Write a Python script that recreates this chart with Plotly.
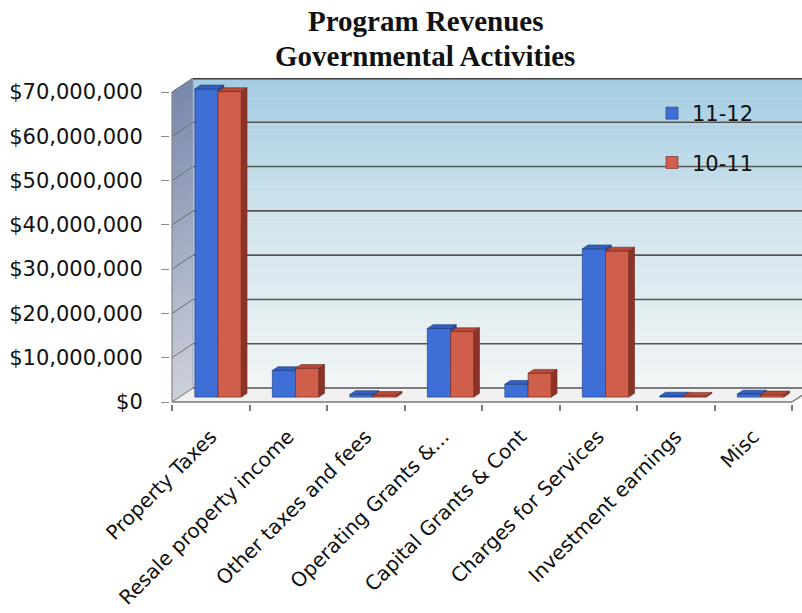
import plotly.graph_objects as go

# ---- data -------------------------------------------------------------
categories = [
    "Property Taxes",
    "Resale property income",
    "Other taxes and fees",
    "Operating Grants &...",
    "Capital Grants & Cont",
    "Charges for Services",
    "Investment earnings",
    "Misc",
]
rev_11_12 = [69.6e6, 6.0e6, 0.6e6, 15.5e6, 2.9e6, 33.5e6, 0.25e6, 0.7e6]
rev_10_11 = [69.0e6, 6.5e6, 0.4e6, 14.8e6, 5.4e6, 33.0e6, 0.2e6, 0.5e6]
series_names = ["11-12", "10-11"]
y_tick_values = [0, 10e6, 20e6, 30e6, 40e6, 50e6, 60e6, 70e6]
y_tick_labels = ["${:,.0f}".format(v) for v in y_tick_values]
title_lines = ["Program Revenues", "Governmental Activities"]

# ---- page / pseudo-3D geometry ---------------------------------------
W, H = 802, 613
ML, MR, MT, MB = 170, 0, 78, 209
plot_w = W - ML - MR
plot_h = H - MT - MB
px_per_cat = 77.5                  # pixels per category slot
px_per_usd = 310 / 70e6            # pixels per dollar
x_lo = -0.5 - 2 / px_per_cat
x_hi = x_lo + plot_w / px_per_cat
y_lo = -2 / px_per_usd
y_hi = y_lo + plot_h / px_per_usd
y_wall_top = y_tick_values[-1]

dxu = 21 / px_per_cat              # depth direction, x part (data units)
dyu = 14 / px_per_usd              # depth direction, y part (data units)
bar_t = 0.35                       # depth of the bars' front faces
bar_d = 0.27                       # bar thickness in depth
bar_w = 0.30                       # width of one bar
sx, sy = bar_t * dxu, bar_t * dyu
ddx, ddy = bar_d * dxu, bar_d * dyu

BLUE, BLUE_TOP, BLUE_SIDE = "#3d6fd6", "#3160c2", "#27489a"
RED, RED_TOP, RED_SIDE = "#cf5f4a", "#b54a39", "#8c3327"
GRID = "#555555"


def poly(pts, fill, line_color=None, lw=0.0, layer="below"):
    path = "M " + " L ".join(f"{x:.6f},{y:.2f}" for x, y in pts) + " Z"
    return dict(type="path", path=path, xref="x", yref="y", layer=layer,
                fillcolor=fill, line=dict(color=line_color or fill, width=lw))


def seg(x0, y0, x1, y1, color, width, layer="below"):
    return dict(type="line", x0=x0, y0=y0, x1=x1, y1=y1, xref="x", yref="y",
                layer=layer, line=dict(color=color, width=width))


def mix(c0, c1, f):
    return "rgb(%d,%d,%d)" % tuple(round(a + (b - a) * f) for a, b in zip(c0, c1))


def px_to_paper_y(ypx):
    return (H - MB - ypx) / plot_h


shapes = []

# back wall: vertical gradient, light blue at the top fading to white
n_bands = 60
wall_bottom = dyu
for k in range(n_bands):
    a = wall_bottom + (y_hi - wall_bottom) * k / n_bands
    b = wall_bottom + (y_hi - wall_bottom) * (k + 1.05) / n_bands
    up = (k + 0.5) / n_bands
    if up < 0.55:
        col = mix((242, 245, 245), (208, 228, 237), up / 0.55)
    else:
        col = mix((208, 228, 237), (163, 204, 226), (up - 0.55) / 0.45)
    shapes.append(dict(type="rect", xref="x", yref="y", layer="below",
                       x0=x_lo + dxu, x1=x_hi, y0=a, y1=b,
                       fillcolor=col, line=dict(width=0)))

# left side wall: grey-blue gradient
n_side = 40
for k in range(n_side):
    a = y_wall_top * k / n_side
    b = min(y_wall_top, y_wall_top * (k + 1.6) / n_side)
    up = (k + 0.5) / n_side
    col = mix((204, 208, 217), (120, 136, 172), up)
    shapes.append(poly([(-0.5, a), (-0.5 + dxu, a + dyu),
                        (-0.5 + dxu, b + dyu), (-0.5, b)], col))

# floor
shapes.append(poly([(-0.5, 0), (7.5, 0), (7.5 + dxu, dyu), (-0.5 + dxu, dyu)],
                   "#f1f1f1"))

# gridlines on the back wall and on the side wall
for v in y_tick_values:
    shapes.append(seg(-0.5 + dxu, v + dyu, x_hi, v + dyu, GRID, 1.6))
    shapes.append(seg(-0.5, v, -0.5 + dxu, v + dyu, "#6f6f6f", 1.0))
shapes.append(seg(-0.5 + dxu, dyu, -0.5 + dxu, y_wall_top + dyu, "#9aa3b5", 1.0))
shapes.append(seg(-0.5 + dxu, y_hi, x_hi, y_hi, "#3c3c3c", 3.0))

# front axis lines
shapes.append(seg(-0.5, 0, -0.5, y_wall_top, "#8a8a8a", 1.3))
shapes.append(seg(-0.5, 0, 7.5, 0, "#7a7a7a", 1.5))
shapes.append(seg(7.5, 0, 7.5 + dxu, dyu, "#7a7a7a", 1.5))

# top and side faces of every bar pair, derived from the same values
for i, (vb, vr) in enumerate(zip(rev_11_12, rev_10_11)):
    xb0 = i + sx - bar_w
    xb1 = i + sx
    xr1 = i + sx + bar_w
    tb, tr = vb + sy, vr + sy
    base = sy
    if tb >= tr:
        # blue is taller: its side face shows above the red bar
        shapes.append(poly([(xb1, tr), (xb1 + ddx, tr + ddy), (xb1 + ddx, tb + ddy),
                            (xb1, tb)], BLUE_SIDE, "#1f3a7a", 0.6, "above"))
        shapes.append(poly([(xb0, tb), (xb1, tb), (xb1 + ddx, tb + ddy),
                            (xb0 + ddx, tb + ddy)], BLUE_TOP, "#1f3a7a", 0.6, "above"))
    else:
        c = min(tr, tb + ddy)
        xc = xb1 + (tb + ddy - c) * ddx / ddy
        shapes.append(poly([(xb0, tb), (xb1, tb), (xb1, c), (xc, tb + ddy),
                            (xb0 + ddx, tb + ddy)], BLUE_TOP, "#1f3a7a", 0.6, "above"))
    shapes.append(poly([(xb1, tr), (xr1, tr), (xr1 + ddx, tr + ddy),
                        (xb1 + ddx, tr + ddy)], RED_TOP, "#6e2a20", 0.6, "above"))
    shapes.append(poly([(xr1, base), (xr1 + ddx, base + ddy), (xr1 + ddx, tr + ddy),
                        (xr1, tr)], RED_SIDE, "#6e2a20", 0.6, "above"))

# ---- traces: front faces of the columns --------------------------------
idx = list(range(len(categories)))
fig = go.Figure()
fig.add_trace(go.Bar(
    x=idx, y=rev_11_12, base=[sy] * len(idx), width=bar_w, offset=sx - bar_w,
    name=series_names[0], legendgroup="a",
    marker=dict(color=BLUE, line=dict(color="#22408a", width=0.7)),
    customdata=categories,
    hovertemplate="%{customdata}<br>11-12: $%{y:,.0f}<extra></extra>",
))
fig.add_trace(go.Bar(
    x=idx, y=rev_10_11, base=[sy] * len(idx), width=bar_w, offset=sx,
    name=series_names[1], legendgroup="b",
    marker=dict(color=RED, line=dict(color="#7a2e24", width=0.7)),
    customdata=categories,
    hovertemplate="%{customdata}<br>10-11: $%{y:,.0f}<extra></extra>",
))

label_font = dict(family="DejaVu Sans", size=21, color="#111111")
cat_font = dict(family="DejaVu Sans", size=20, color="#111111")
title_font = dict(family="Liberation Serif", size=29, color="#111111", weight="bold")

annotations = [
    dict(text=title_lines[0], x=(425 - ML) / plot_w, xref="paper", xanchor="center",
         y=px_to_paper_y(21), yref="paper", yanchor="middle",
         showarrow=False, font=title_font),
    dict(text=title_lines[1], x=(425 - ML) / plot_w, xref="paper", xanchor="center",
         y=px_to_paper_y(56), yref="paper", yanchor="middle",
         showarrow=False, font=title_font),
]

fig.update_layout(
    width=W, height=H,
    margin=dict(l=ML, r=MR, t=MT, b=MB, pad=0, autoexpand=False),
    paper_bgcolor="white", plot_bgcolor="white",
    barmode="overlay",
    shapes=shapes,
    annotations=annotations,
    xaxis=dict(
        range=[x_lo, x_hi], showgrid=False, zeroline=False, showline=False,
        tickmode="array", tickvals=idx, ticktext=categories, ticks="",
        tickangle=-45, tickfont=cat_font, ticklabelstandoff=16,
        minor=dict(tickmode="array", tickvals=[i - 0.5 for i in range(len(categories) + 1)],
                   ticks="outside", ticklen=6, tickwidth=1.5, tickcolor="#7a7a7a",
                   showgrid=False),
        automargin=False, fixedrange=True,
    ),
    yaxis=dict(
        range=[y_lo, y_hi], showgrid=False, zeroline=False, showline=False,
        tickmode="array", tickvals=y_tick_values, ticktext=y_tick_labels,
        ticks="outside", ticklen=8, tickwidth=1.3, tickcolor="#8a8a8a",
        tickfont=label_font, ticklabelstandoff=14,
        automargin=False, fixedrange=True,
    ),
    legend=dict(
        x=(652 - ML) / plot_w, y=px_to_paper_y(93),
        xanchor="left", yanchor="top",
        bgcolor="rgba(0,0,0,0)", font=label_font,
        tracegroupgap=19, traceorder="grouped",
    ),
    showlegend=True,
)

fig.write_html("out.html")
